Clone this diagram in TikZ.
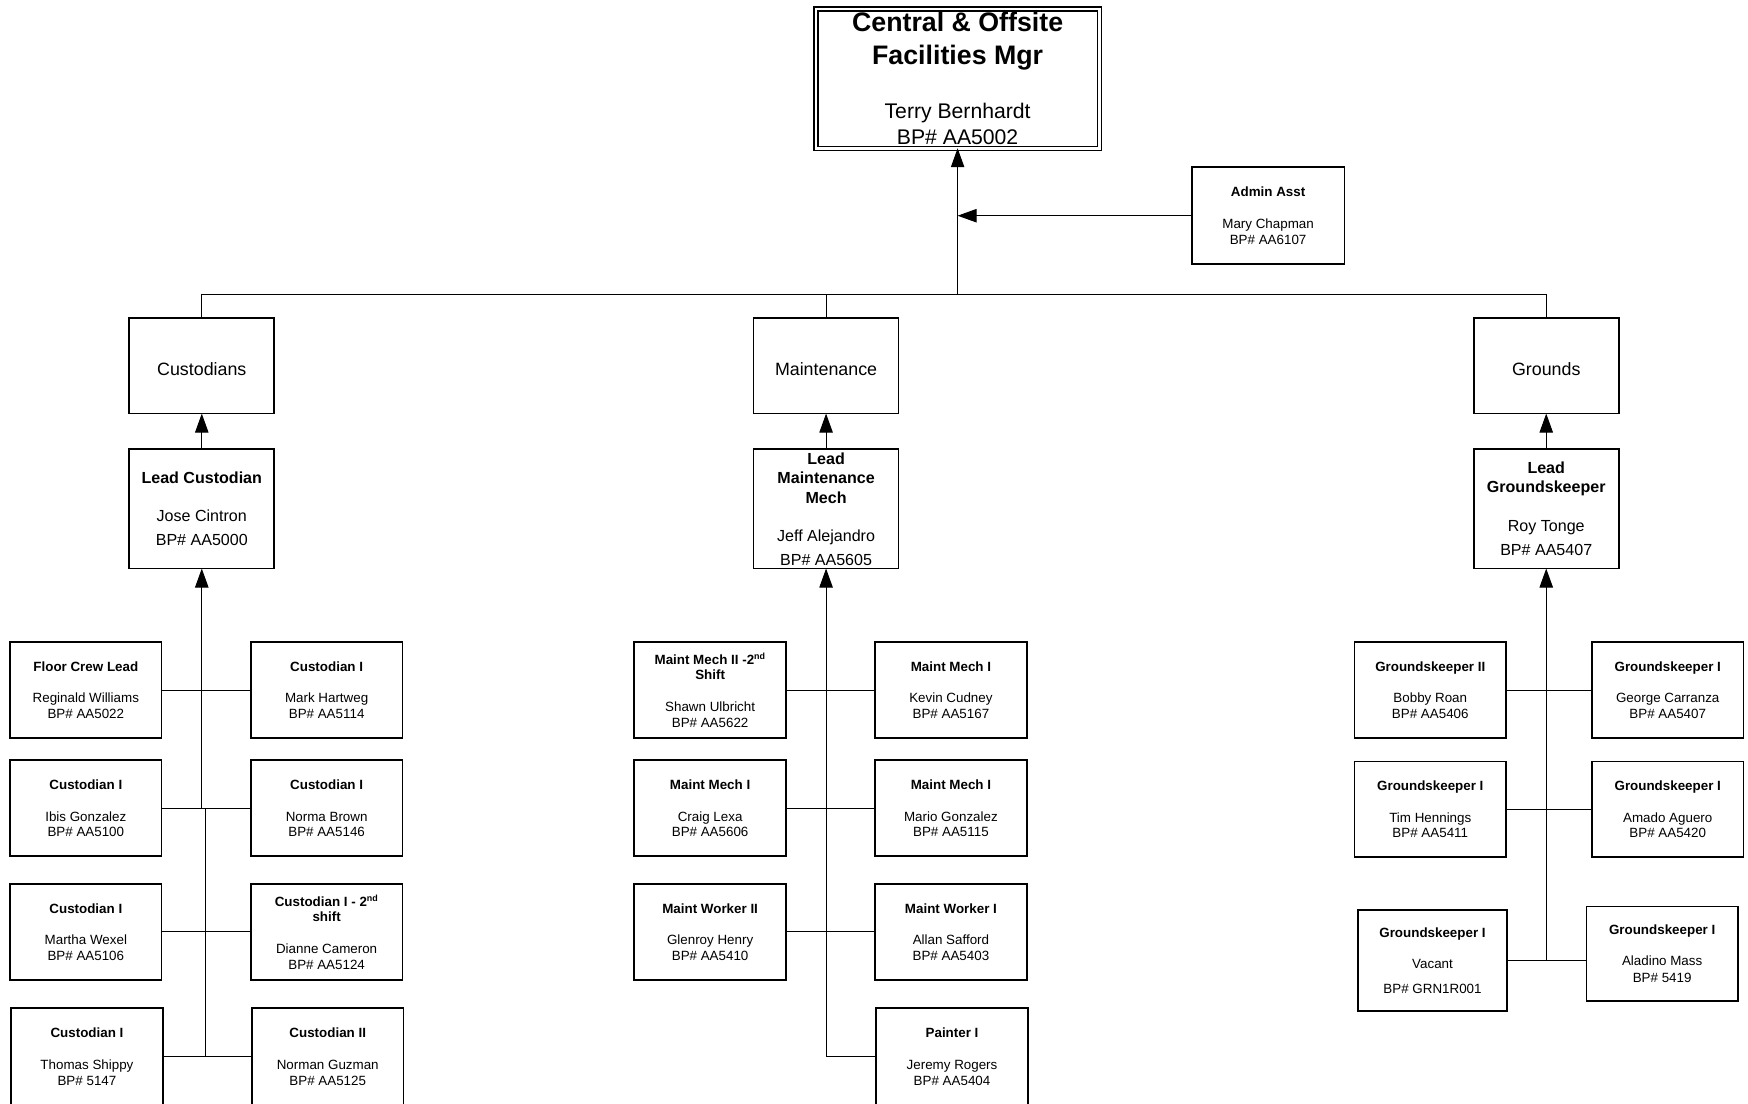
\documentclass[tikz,border=0pt]{standalone}
\usepackage{fontspec}
\setmainfont{Liberation Sans}
\usetikzlibrary{arrows.meta,positioning}

\begin{document}
\begin{tikzpicture}[
x=1pt, y=1pt,
boss/.style={draw, double, double distance=2.4pt, line width=1.2pt, minimum width=254pt, minimum height=125pt, inner sep=0pt, outer sep=0pt, align=center, font=\fontsize{19}{23}\selectfont},
dept/.style={draw, line width=1.5pt, minimum width=130pt, minimum height=86pt, inner sep=0pt, outer sep=0pt, text height=17.5pt, text depth=0pt, font=\fontsize{16}{19}\selectfont},
lead/.style={draw, line width=1.5pt, minimum width=130pt, minimum height=107pt, inner sep=0pt, outer sep=0pt, align=center, font=\fontsize{14.4}{17.5}\selectfont},
staff/.style={draw, line width=1.5pt, minimum width=136pt, minimum height=86pt, inner sep=0pt, outer sep=0pt, align=center, font=\fontsize{12}{14}\selectfont},
cut/.style={minimum height=88pt},
link/.style={line width=0.9pt},
arrow/.style={-{Triangle[length=17pt, width=12pt]}, line width=0.9pt}
]
\useasboundingbox (0,0) rectangle (1568,-990);

% top of the chart
\node[boss] (mgr) at (859,-70.5) {{\fontsize{24}{29}\selectfont\bfseries Central \& Offsite}\\[6pt]{\fontsize{24}{29}\selectfont\bfseries Facilities Mgr}\\[26pt]Terry Bernhardt\\BP\# AA5002};
\node[staff, minimum width=137pt, minimum height=87pt, below right=17pt and 83pt of mgr] (admin) {\textbf{Admin Asst}\\[15pt]Mary Chapman\\BP\# AA6107};
\coordinate[below=131pt of mgr.south] (bus);

% departments
\node[dept] (cust) at (181,-328) {Custodians};
\node[dept] (mnt) at (741,-328) {Maintenance};
\node[dept] (grnd) at (1387,-328) {Grounds};

\node[lead, below=32pt of cust] (clead) {\textbf{Lead Custodian}\\[16.5pt]Jose Cintron\\[4.5pt]BP\# AA5000};
\node[lead, below=32pt of mnt] (mlead) {\textbf{Lead}\\\textbf{Maintenance}\\\textbf{Mech}\\[16.5pt]Jeff Alejandro\\[4pt]BP\# AA5605};
\node[lead, below=32pt of grnd] (glead) {\textbf{Lead}\\\textbf{Groundskeeper}\\[17.5pt]Roy Tonge\\[4pt]BP\# AA5407};

% custodians
\node[staff, below=66pt of clead, xshift=-104pt] (c1l) {\textbf{Floor Crew Lead}\\[14.5pt]Reginald Williams\\BP\# AA5022};
\node[staff, below=66pt of clead, xshift=112pt] (c1r) {\textbf{Custodian I}\\[14.5pt]Mark Hartweg\\BP\# AA5114};
\node[staff, below=20pt of c1l] (c2l) {\textbf{Custodian I}\\[14.5pt]Ibis Gonzalez\\BP\# AA5100};
\node[staff, below=20pt of c1r] (c2r) {\textbf{Custodian I}\\[14.5pt]Norma Brown\\BP\# AA5146};
\node[staff, below=25pt of c2l] (c3l) {\textbf{Custodian I}\\[14.5pt]Martha Wexel\\BP\# AA5106};
\node[staff, below=25pt of c2r] (c3r) {\textbf{Custodian I - 2\textsuperscript{nd}}\\\textbf{shift}\\[14.5pt]Dianne Cameron\\BP\# AA5124};
\node[staff, cut, below=25pt of c3l, xshift=1pt] (c4l) {\textbf{Custodian I}\\[14.5pt]Thomas Shippy\\BP\# 5147};
\node[staff, cut, below=25pt of c3r, xshift=1pt] (c4r) {\textbf{Custodian II}\\[14.5pt]Norman Guzman\\BP\# AA5125};

% maintenance
\node[staff, below=66pt of mlead, xshift=-104pt] (m1l) {\textbf{Maint Mech II -2\textsuperscript{nd}}\\\textbf{Shift}\\[14.5pt]Shawn Ulbricht\\BP\# AA5622};
\node[staff, below=66pt of mlead, xshift=112pt] (m1r) {\textbf{Maint Mech I}\\[14.5pt]Kevin Cudney\\BP\# AA5167};
\node[staff, below=20pt of m1l] (m2l) {\textbf{Maint Mech I}\\[14.5pt]Craig Lexa\\BP\# AA5606};
\node[staff, below=20pt of m1r] (m2r) {\textbf{Maint Mech I}\\[14.5pt]Mario Gonzalez\\BP\# AA5115};
\node[staff, below=25pt of m2l] (m3l) {\textbf{Maint Worker II}\\[14.5pt]Glenroy Henry\\BP\# AA5410};
\node[staff, below=25pt of m2r] (m3r) {\textbf{Maint Worker I}\\[14.5pt]Allan Safford\\BP\# AA5403};
\node[staff, cut, below=25pt of m3r, xshift=1pt] (m4r) {\textbf{Painter I}\\[14.5pt]Jeremy Rogers\\BP\# AA5404};

% grounds
\node[staff, below=66pt of glead, xshift=-104pt] (g1l) {\textbf{Groundskeeper II}\\[14.5pt]Bobby Roan\\BP\# AA5406};
\node[staff, below=66pt of glead, xshift=109pt] (g1r) {\textbf{Groundskeeper I}\\[14.5pt]George Carranza\\BP\# AA5407};
\node[staff, below=21pt of g1l] (g2l) {\textbf{Groundskeeper I}\\[14.5pt]Tim Hennings\\BP\# AA5411};
\node[staff, below=21pt of g1r] (g2r) {\textbf{Groundskeeper I}\\[14.5pt]Amado Aguero\\BP\# AA5420};
\node[staff, minimum width=134pt, minimum height=91pt, below=47pt of g2l, xshift=2pt] (g3l) {\textbf{Groundskeeper I}\\[14pt]Vacant\\[8pt]BP\# GRN1R001};
\node[staff, minimum height=85pt, below=44pt of g2r, xshift=-5pt] (g3r) {\textbf{Groundskeeper I}\\[14pt]Aladino Mass\\[1pt]BP\# 5419};

% connectors
\draw[arrow] (bus) -- (mgr.south);
\draw[arrow] (admin.west) -- (admin.west -| bus);
\draw[link] (cust.north) |- (bus) -| (grnd.north);
\draw[link] (mnt.north) -- (mnt.north |- bus);
\draw[arrow] (clead) -- (cust);
\draw[arrow] (mlead) -- (mnt);
\draw[arrow] (glead) -- (grnd);

\draw[arrow] (clead.south |- c2l.east) -- (clead.south);
\draw[link] ([xshift=3pt]clead.south |- c2l.east) -- ([xshift=3pt]clead.south |- c4l.east);
\draw[link] (c1l) -- (c1r);
\draw[link] (c2l) -- (c2r);
\draw[link] (c3l) -- (c3r);
\draw[link] (c4l) -- (c4r);

\draw[arrow] (m4r.west) -| (mlead.south);
\draw[link] (m1l) -- (m1r);
\draw[link] (m2l) -- (m2r);
\draw[link] (m3l) -- (m3r);

\draw[arrow] (g3l.east -| glead.south) -- (glead.south);
\draw[link] (g1l) -- (g1r);
\draw[link] (g2l) -- (g2r);
\draw[link] (g3l.east) -- (g3l.east -| g3r.west);
\end{tikzpicture}
\end{document}
